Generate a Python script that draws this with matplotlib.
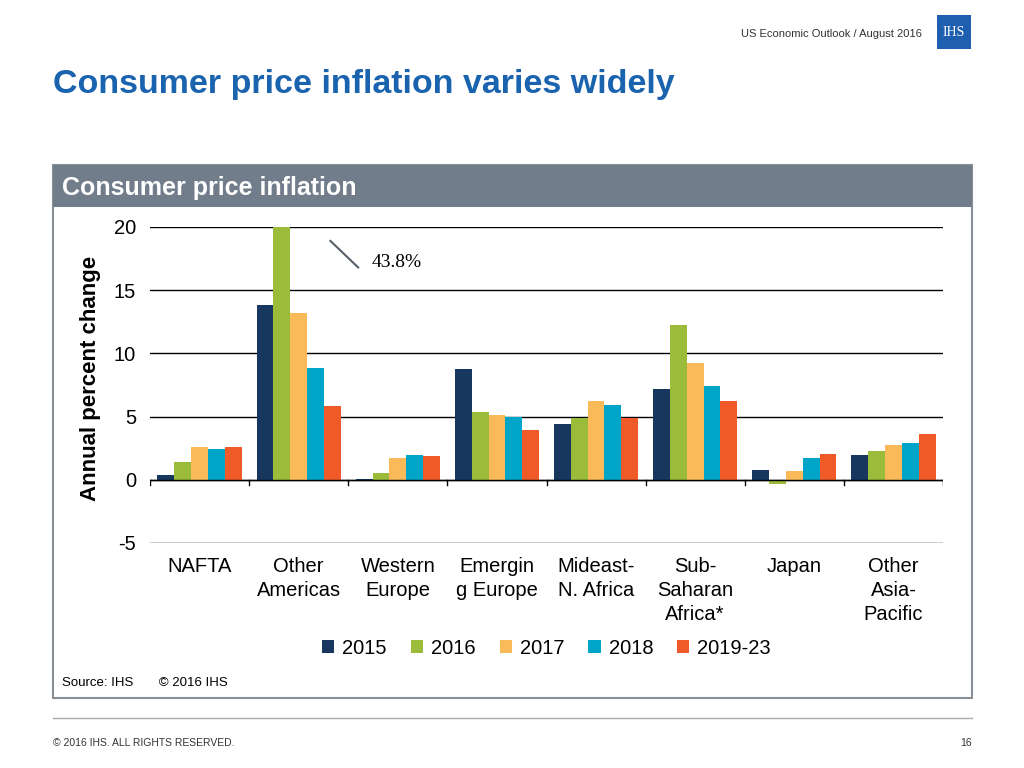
import matplotlib.pyplot as plt
import numpy as np
from matplotlib.patches import Rectangle
from matplotlib.lines import Line2D

regions = ['NAFTA', 'Other\nAmericas', 'Western\nEurope', 'Emergin\ng Europe', 'Mideast-\nN. Africa',
           'Sub-\nSaharan\nAfrica*', 'Japan', 'Other\nAsia-\nPacific']
years = ['2015', '2016', '2017', '2018', '2019-23']
v2015 = [0.4, 13.8, 0.1, 8.8, 4.4, 7.2, 0.8, 1.95]
v2016 = [1.4, 43.8, 0.5, 5.4, 4.9, 12.25, -0.35, 2.3]
v2017 = [2.6, 13.2, 1.7, 5.1, 6.2, 9.25, 0.7, 2.75]
v2018 = [2.4, 8.85, 2.0, 5.0, 5.9, 7.4, 1.7, 2.9]
v2019_23 = [2.6, 5.8, 1.9, 3.95, 4.9, 6.2, 2.05, 3.65]
series = [v2015, v2016, v2017, v2018, v2019_23]
colors = ['#17375E', '#9BBB3B', '#FBBA5A', '#00A5C8', '#F05A28']

W, H = 1024, 768
plt.rcParams['font.family'] = ['Liberation Sans', 'DejaVu Sans']
fig = plt.figure(figsize=(W / 100, H / 100), dpi=100)

def fx(px): return px / W
def fy(py): return 1 - py / H

# header / title
fig.text(fx(922), fy(34), 'US Economic Outlook / August 2016', ha='right', va='center', fontsize=8, color='#333333')
fig.patches.append(Rectangle((fx(937), fy(49)), fx(34), 34 / H, transform=fig.transFigure,
                             facecolor='#1F5FAF', edgecolor='none'))
fig.text(fx(954), fy(32), 'IHS', ha='center', va='center', fontsize=10, color='white', family='Liberation Serif')
fig.text(fx(53), fy(84), 'Consumer price inflation varies widely', ha='left', va='center',
         fontsize=24.5, fontweight='bold', color='#1A63AE')

# panel
fig.patches.append(Rectangle((fx(53), fy(698)), fx(972 - 53), (698 - 165) / H, transform=fig.transFigure,
                             facecolor='white', edgecolor='#8A8F96', linewidth=1.5))
fig.patches.append(Rectangle((fx(53), fy(207)), fx(972 - 53), (207 - 165) / H, transform=fig.transFigure,
                             facecolor='#717D8A', edgecolor='none'))
fig.text(fx(62), fy(188), 'Consumer price inflation', ha='left', va='center', fontsize=18,
         fontweight='bold', color='white')
fig.text(fx(62), fy(683), 'Source: IHS       \u00a9 2016 IHS', ha='left', va='center', fontsize=9.5)

# footer
fig.lines.append(Line2D([fx(53), fx(972)], [fy(718), fy(718)], transform=fig.transFigure, color='#AAAAAA', lw=1))
fig.text(fx(53), fy(743), '\u00a9 2016 IHS. ALL RIGHTS RESERVED.', ha='left', va='center', fontsize=7.5, color='#333333')
fig.text(fx(972), fy(743), '16', ha='right', va='center', fontsize=7.5, color='#333333')

ax = fig.add_axes([fx(150), fy(543), fx(943 - 150), (543 - 227) / H])
ax.set_zorder(5)
ax.patch.set_alpha(0)
x = np.arange(len(regions))
bw = 0.17
for i, (vals, c, yr) in enumerate(zip(series, colors, years)):
    ax.bar(x + (i - 2) * bw, vals, bw, color=c, label=yr)
ax.set_ylim(-5, 20)
ax.set_xlim(-0.5, len(regions) - 0.5)
ax.set_yticks([-5, 0, 5, 10, 15, 20])
ax.set_yticklabels(['-5', '0', '5', '10', '15', '20'], fontsize=14.5)
ax.yaxis.grid(True, color='black', lw=1)
ax.set_axisbelow(True)
for s in ax.spines.values():
    s.set_visible(False)
ax.tick_params(axis='y', length=0, pad=10)
ax.axhline(0, color='black', lw=1)
for b in np.arange(-0.5, len(regions), 1):
    ax.plot([b, b], [0, -0.4], color='black', lw=1)
ax.set_xticks(x)
ax.set_xticklabels(regions, fontsize=14.5, linespacing=1.35)
ax.tick_params(axis='x', length=0, pad=10)
ax.set_ylabel('Annual percent change', fontsize=16, fontweight='bold')
ax.yaxis.set_label_coords(-0.062, 0.52)

ax.plot([1.32, 1.6], [18.9, 16.8], color='#55606B', lw=1.5)
ax.text(1.74, 17.2, '43.8%', fontsize=14, family='Liberation Serif', va='center')

ax.legend(loc='upper center', bbox_to_anchor=(0.5, -0.245), ncol=5, frameon=False, fontsize=14.5,
          handlelength=0.6, handleheight=0.6, handletextpad=0.4, columnspacing=1.2)

fig.savefig('out.png', dpi=100)
